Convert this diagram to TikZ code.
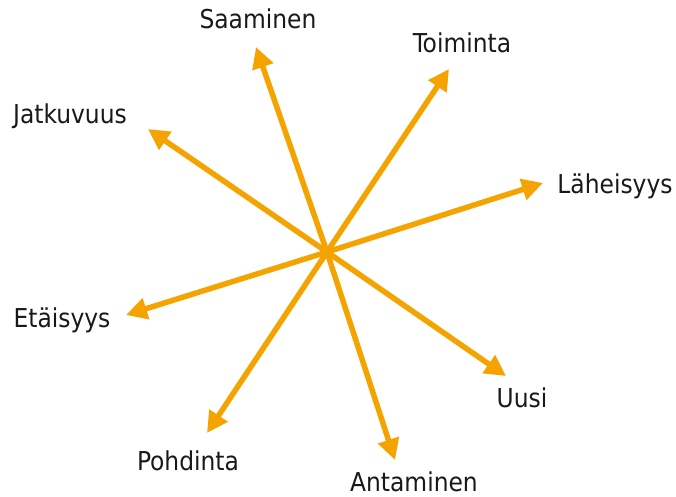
\documentclass[tikz,border=0pt]{standalone}
\usepackage{fontspec}
\setmainfont{DejaVu Sans Condensed}
\usetikzlibrary{arrows.meta}
\definecolor{arrowor}{RGB}{245,163,0}
\definecolor{txt}{RGB}{25,25,25}
\tikzset{
  spoke/.style={draw=arrowor, line width=5.5pt, -{Triangle[length=21pt,width=21pt]}},
  lbl/.style={anchor=base, inner sep=0pt, text=txt, font=\fontsize{26}{30}\selectfont}
}
\begin{document}
\begin{tikzpicture}[x=1pt,y=-1pt]
\useasboundingbox (0,0) rectangle (676,496);
\coordinate (c) at (327,252);
\coordinate (tS) at (256,47);
\coordinate (tT) at (449,69);
\coordinate (tL) at (543,183);
\coordinate (tU) at (506,376);
\coordinate (tA) at (395,460);
\coordinate (tP) at (207,433);
\coordinate (tE) at (126,315);
\coordinate (tJ) at (148,129);
\node[lbl] (lS) at (258,28) {Saaminen};
\node[lbl] (lT) at (462,52) {Toiminta};
\node[lbl] (lL) at (615,193) {Läheisyys};
\node[lbl] (lU) at (522,407) {Uusi};
\node[lbl] (lA) at (414,491) {Antaminen};
\node[lbl] (lP) at (188,470) {Pohdinta};
\node[lbl] (lE) at (62,327) {Etäisyys};
\node[lbl] (lJ) at (70,123) {Jatkuvuus};
\foreach \t in {tS,tT,tL,tU,tA,tP,tE,tJ} {
  \draw[spoke] (c) -- (\t);
}
\end{tikzpicture}
\end{document}
